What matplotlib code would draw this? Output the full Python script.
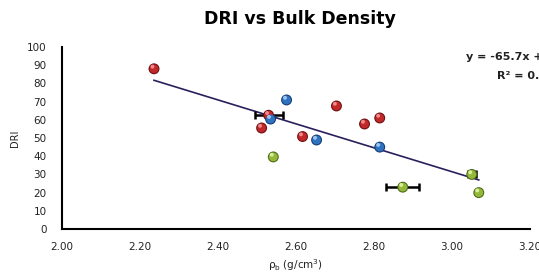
import numpy as np
import matplotlib
matplotlib.use('Agg')
import matplotlib.pyplot as plt

# Dados (densidade aparente vs DRI)
red_x = [2.236, 2.530, 2.512, 2.704, 2.617, 2.776, 2.815]
red_y = [88.0, 62.5, 55.5, 67.6, 50.8, 57.7, 61.0]
blue_x = [2.535, 2.576, 2.653, 2.815]
blue_y = [60.4, 70.9, 48.9, 45.0]
green_x = [2.542, 2.874, 3.051, 3.069]
green_y = [39.6, 23.0, 30.0, 20.0]

# barras de erro horizontais (x, y, erro)
err_x = [2.530, 2.874, 3.051]
err_y = [62.5, 23.0, 30.0]
err_dx = [0.036, 0.042, 0.010]

# linha de tendência (do rótulo do gráfico)
slope = -65.7
intercept = 228.6
r2_text = "0.62"

fig = plt.figure(figsize=(5.39, 2.73), dpi=100)
ax = fig.add_axes([0.115, 0.161, 0.868, 0.667])

all_x = red_x + blue_x + green_x
xs = np.array([min(all_x), max(all_x)])
ax.plot(xs, slope * xs + intercept, color='#2a1f5c', lw=1.2, zorder=2)

ax.errorbar(err_x, err_y, xerr=err_dx, fmt='none', ecolor='black',
            elinewidth=1.8, capsize=3, capthick=1.8, zorder=3)


def spheres(x, y, base, dark, light):
    ax.scatter(x, y, s=62, color=dark, edgecolors='none', zorder=4)
    ax.scatter(x, y, s=40, color=base, edgecolors='none', zorder=5)
    ax.scatter(np.array(x) - 0.004, np.array(y) + 1.2, s=8, color=light,
               edgecolors='none', zorder=6)


spheres(red_x, red_y, '#c0282a', '#6e1012', '#f08a8a')
spheres(blue_x, blue_y, '#2f72c0', '#173e72', '#9cc6f0')
spheres(green_x, green_y, '#93b83a', '#4e6a18', '#d8ee9a')

ax.set_xlim(2.0, 3.2)
ax.set_ylim(0, 100)
ax.set_xticks(np.arange(2.0, 3.21, 0.2))
ax.set_xticklabels([f'{v:.2f}' for v in np.arange(2.0, 3.21, 0.2)])
ax.set_yticks(range(0, 101, 10))
ax.tick_params(length=0, labelsize=7.5, colors='#222222')
ax.tick_params(axis='y', pad=11)
ax.tick_params(axis='x', pad=9)
for s in ['top', 'right']:
    ax.spines[s].set_visible(False)
for s in ['left', 'bottom']:
    ax.spines[s].set_linewidth(1.5)
    ax.spines[s].set_color('black')

ax.set_ylabel('DRI', fontsize=7, color='#222222', labelpad=5)
ax.set_xlabel(r'$\mathregular{\rho_b}$ (g/cm$\mathregular{^3}$)', fontsize=7.5,
              color='#222222', labelpad=4)

fig.text(0.557, 0.93, 'DRI vs Bulk Density', ha='center', va='center',
         fontsize=12.5, fontweight='bold')
fig.text(0.865, 0.79, f'y = {slope}x + {intercept}', ha='left', va='center',
         fontsize=8, fontweight='bold', color='#222222')
fig.text(0.922, 0.722, f'R² = {r2_text}', ha='left', va='center',
         fontsize=8, fontweight='bold', color='#222222')

fig.savefig('out.png', dpi=100)
